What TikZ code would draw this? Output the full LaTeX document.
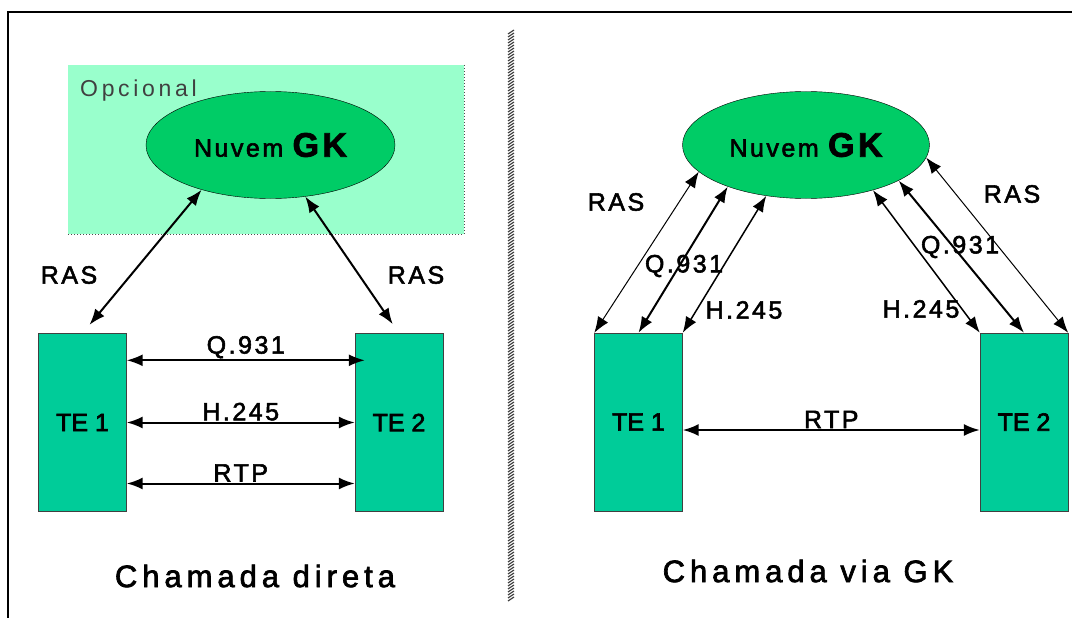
\documentclass[tikz,border=0pt]{standalone}
\usepackage{fontspec}
\setmainfont{Liberation Sans}
\newfontfamily\spaced{Liberation Sans}[LetterSpace=10, FakeBold=2.2]
\newfontfamily\wide{Liberation Sans}[LetterSpace=16, FakeBold=2.2]
\newfontfamily\tefont{Liberation Sans}[FakeBold=2.6]
\newfontfamily\optfont{Liberation Sans}[LetterSpace=16]
\usetikzlibrary{arrows.meta,shapes.geometric}
\definecolor{optbg}{RGB}{153,255,204}
\definecolor{gkgreen}{RGB}{0,204,102}
\definecolor{tegreen}{RGB}{0,204,153}

\begin{document}
\begin{tikzpicture}[x=1pt, y=-1pt,
        te/.style={draw=black!75, fill=tegreen, minimum width=88pt, minimum height=178pt, inner sep=0pt, font=\fontsize{25}{30}\selectfont\tefont},
        gk/.style={ellipse, draw, fill=gkgreen, inner sep=0pt},
        lbl/.style={font=\fontsize{25}{30}\selectfont\spaced, inner sep=1pt},
        title/.style={font=\fontsize{31}{36}\selectfont\wide},
        link/.style={{Latex[length=16pt,width=12pt]}-{Latex[length=16pt,width=12pt]}, line width=2pt},
    ]
    \useasboundingbox (0,0) rectangle (1072,618);
    \draw[line width=1.5pt] (1072,12) -- (8,12) -- (8,618);
    \foreach \y in {30,33,...,597}
        \draw[black!75, line width=1.2pt] (508,\y+4) -- (514,\y);

    % chamada direta
    \fill[optbg] (68,65) rectangle (464,234);
    \draw[dotted, black!70, line width=1pt] (464,65) -- (464,234) -- (68,234);
    \node[anchor=base west, font=\fontsize{23}{28}\selectfont\optfont, text=black!75, inner sep=0pt] (opt) at (80,97) {Opcional};
    \node[gk, minimum width=249pt, minimum height=107pt] (gkL) at (270.5,145)
        {\spaced\fontsize{25}{30}\selectfont Nuvem \fontsize{34}{38}\selectfont\bfseries GK};
    \node[te] (te1L) at (82.5,422.5) {TE 1};
    \node[te] (te2L) at (399,422.5) {TE 2};

    \draw[link, shorten >=11pt] (gkL.213) -- (te1L.north);
    \draw[link, shorten >=11pt] (gkL.304) -- (te2L.north);
    \node[lbl] (rasL1) at (69,275) {RAS};
    \node[lbl] (rasL2) at (416,275) {RAS};

    \draw[link] ([yshift=-27pt]te1L.north east) -- ([yshift=-27pt,xshift=10pt]te2L.north west)
        node[midway, above, lbl] (q931L) {Q.931};
    \draw[link] (te1L.east) -- (te2L.west) node[midway, above, lbl] (h245L) {H.245};
    \draw[link] ([yshift=-61pt]te1L.east) -- ([yshift=-61pt]te2L.west)
        node[midway, above, lbl] (rtpL) {RTP};
    \node[title] (tdir) at (255,576) {Chamada direta};

    % chamada via GK
    \node[gk, minimum width=247pt, minimum height=107pt] (gkR) at (806,145)
        {\spaced\fontsize{25}{30}\selectfont Nuvem \fontsize{34}{38}\selectfont\bfseries GK};
    \node[te] (te1R) at (638.5,422) {TE 1};
    \node[te] (te2R) at (1024,422) {TE 2};

    \draw[link, line width=1pt] (gkR.194) -- (te1R.north west);
    \draw[link] (gkR.208) -- (te1R.north);
    \draw[link, line width=1.5pt] (gkR.232) -- (te1R.north east);
    \draw[link, line width=1.5pt] (gkR.326) -- (te2R.north west);
    \draw[link] (gkR.339) -- (te2R.north);
    \draw[link, line width=1pt] (gkR.354) -- (te2R.north east);
    \node[lbl] (rasR1) at (616,202) {RAS};
    \node[lbl] (q931R1) at (684,266) {Q.931};
    \node[lbl] (h245R1) at (744,310) {H.245};
    \node[lbl] (rasR2) at (1012,194) {RAS};
    \node[lbl] (q931R2) at (960,247) {Q.931};
    \node[lbl] (h245R2) at (921,309) {H.245};

    \draw[link] ([yshift=-8pt]te1R.east) -- ([yshift=-8pt]te2R.west)
        node[midway, above, lbl] (rtpR) {RTP};
    \node[title] (tvia) at (808,571) {Chamada via GK};
\end{tikzpicture}
\end{document}
